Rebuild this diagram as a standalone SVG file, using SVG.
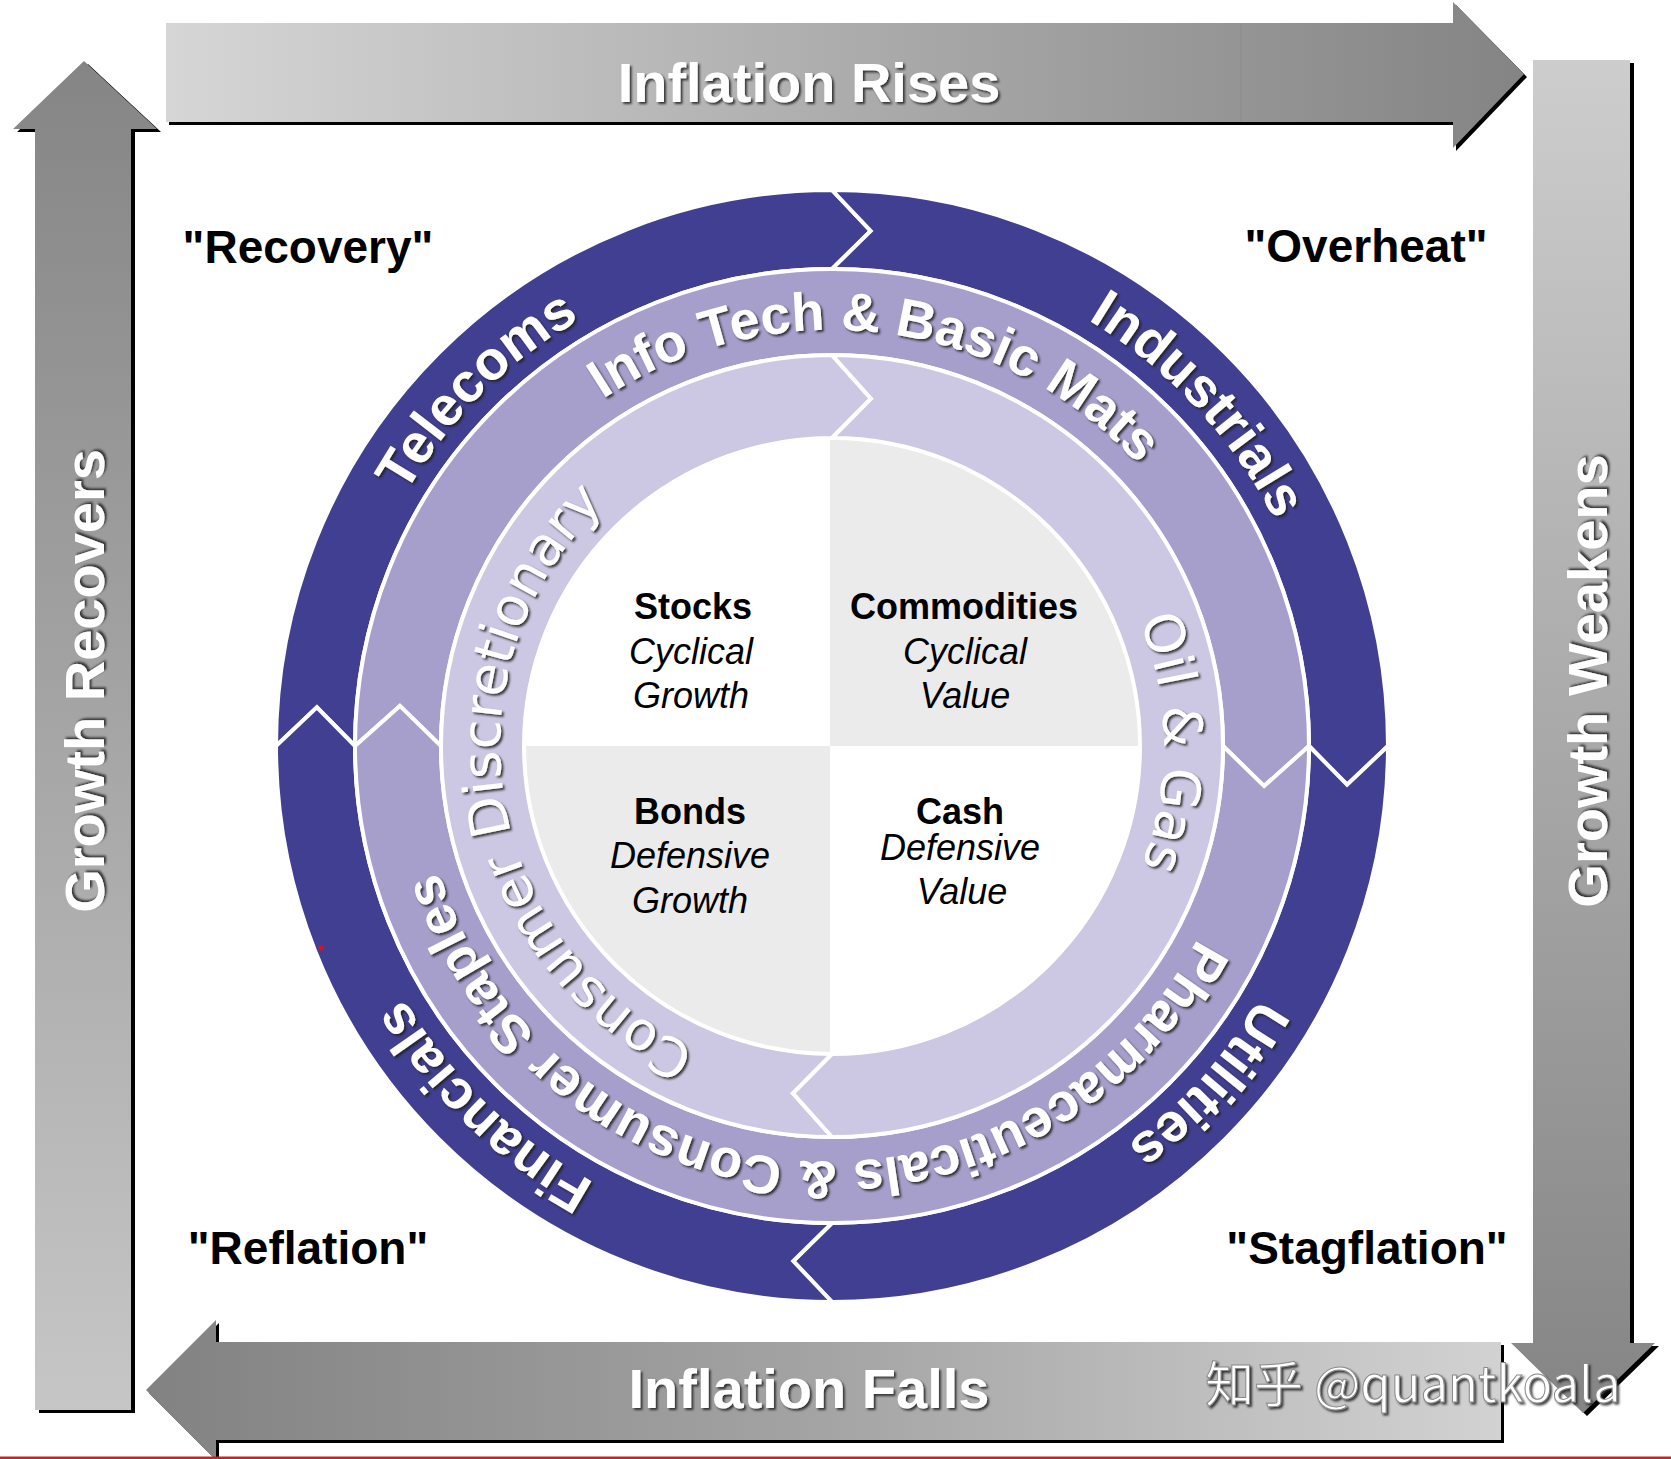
<svg xmlns="http://www.w3.org/2000/svg" xmlns:xlink="http://www.w3.org/1999/xlink" width="1671" height="1459" viewBox="0 0 1671 1459">
<defs>
<style>
.albl{font-family:"Liberation Sans",Arial,sans-serif;font-weight:bold;font-size:56px;fill:#ffffff;text-anchor:middle;filter:url(#ts)}
.qlbl{font-family:"Liberation Sans",Arial,sans-serif;font-weight:bold;font-size:46px;fill:#000000;text-anchor:middle}
.ring{font-family:"Liberation Sans",Arial,sans-serif;font-weight:bold;fill:#ffffff;filter:url(#ts)}
.ring2{font-family:"DejaVu Sans",sans-serif;font-weight:normal;fill:#ffffff;filter:url(#ts)}
.seg{stroke:#ffffff;stroke-width:4;stroke-linejoin:miter}
.dark{fill:#413f91}
.mid{fill:#a69ecb}
.light{fill:#ccc7e2}
.qb{font-family:"Liberation Sans",Arial,sans-serif;font-weight:bold;font-size:36px;fill:#000;text-anchor:middle}
.qi{font-family:"Liberation Sans",Arial,sans-serif;font-style:italic;font-size:36px;fill:#000;text-anchor:middle}
</style>
<filter id="ts" x="-10%" y="-10%" width="125%" height="130%">
<feDropShadow dx="2" dy="2" stdDeviation="0.8" flood-color="#202020" flood-opacity="0.85"/>
</filter>
<linearGradient id="gTop" x1="166" y1="0" x2="1524" y2="0" gradientUnits="userSpaceOnUse">
<stop offset="0" stop-color="#d6d6d6"/><stop offset="0.55" stop-color="#a8a8a8"/><stop offset="1" stop-color="#848484"/>
</linearGradient>
<linearGradient id="gBot" x1="146" y1="0" x2="1501" y2="0" gradientUnits="userSpaceOnUse">
<stop offset="0" stop-color="#828282"/><stop offset="0.5" stop-color="#a4a4a4"/><stop offset="1" stop-color="#d2d2d2"/>
</linearGradient>
<linearGradient id="gLeft" x1="0" y1="61" x2="0" y2="1410" gradientUnits="userSpaceOnUse">
<stop offset="0" stop-color="#858585"/><stop offset="1" stop-color="#c6c6c6"/>
</linearGradient>
<linearGradient id="gRight" x1="0" y1="60" x2="0" y2="1413" gradientUnits="userSpaceOnUse">
<stop offset="0" stop-color="#cdcdcd"/><stop offset="1" stop-color="#858585"/>
</linearGradient>
<clipPath id="innerClip"><circle cx="832" cy="746" r="306"/></clipPath>
<path id="tpTele" d="M1183.4,1097.4 A497,497 0 0 1 480.6,394.6 A497,497 0 0 1 1183.4,1097.4"/>
<path id="tpInd" d="M468.5,1085 A497,497 0 0 1 1195.5,407 A497,497 0 0 1 468.5,1085"/>
<path id="tpUtil" d="M462.7,413.5 A497,497 0 0 1 1201.3,1078.5 A497,497 0 0 1 462.7,413.5"/>
<path id="tpFin" d="M1177.3,388.5 A497,497 0 0 1 486.7,1103.5 A497,497 0 0 1 1177.3,388.5"/>
<path id="tpInfo" d="M781.3,1158.9 A416,416 0 0 1 882.7,333.1 A416,416 0 0 1 781.3,1158.9"/>
<path id="tpPharma" d="M868.3,331.6 A416,416 0 0 1 795.7,1160.4 A416,416 0 0 1 868.3,331.6"/>
<path id="tpCons" d="M1159.5,691.2 A332,332 0 0 1 504.5,800.8 A332,332 0 0 1 1159.5,691.2"/>
<path id="tpOil" d="M500,749.5 A332,332 0 0 1 1164,742.5 A332,332 0 0 1 500,749.5"/>
</defs>

<rect x="0" y="0" width="1671" height="1459" fill="#ffffff"/>

<g id="connectors">
  <g id="arrow-inflation-rises">
    <path d="M166,23 L1453,23 L1453,2 L1524,74 L1453,148 L1453,122 L166,122 Z" fill="#000" transform="translate(3,3)"/>
    <path d="M166,23 L1453,23 L1453,2 L1524,74 L1453,148 L1453,122 L166,122 Z" fill="url(#gTop)"/>
    <line x1="1241" y1="23" x2="1241" y2="122" stroke="#8a8a8a" stroke-width="1"/>
    <text class="albl" x="809" y="102">Inflation Rises</text>
  </g>
  <g id="arrow-growth-weakens">
    <path d="M1533,60 L1630,60 L1630,1343 L1655,1343 L1583,1413 L1511,1343 L1533,1343 Z" fill="#000" transform="translate(4,3)"/>
    <path d="M1533,60 L1630,60 L1630,1343 L1655,1343 L1583,1413 L1511,1343 L1533,1343 Z" fill="url(#gRight)"/>
    <text class="albl" transform="translate(1607,681) rotate(-90)">Growth Weakens</text>
  </g>
  <g id="arrow-inflation-falls">
    <path d="M1501,1342 L216,1342 L216,1320 L146,1390 L216,1460 L216,1440 L1501,1440 Z" fill="#000" transform="translate(3,3)"/>
    <path d="M1501,1342 L216,1342 L216,1320 L146,1390 L216,1460 L216,1440 L1501,1440 Z" fill="url(#gBot)"/>
    <text class="albl" x="809" y="1408">Inflation Falls</text>
  </g>
  <g id="arrow-growth-recovers">
    <path d="M84,61 L157,129 L131,129 L131,1410 L35,1410 L35,129 L13,129 Z" fill="#000" transform="translate(4,3)"/>
    <path d="M84,61 L157,129 L131,129 L131,1410 L35,1410 L35,129 L13,129 Z" fill="url(#gLeft)"/>
    <text class="albl" transform="translate(104,681) rotate(-90)">Growth Recovers</text>
  </g>
</g>

<g id="phase-labels">
  <text id="recovery" class="qlbl" x="308" y="263">"Recovery"</text>
  <text id="overheat" class="qlbl" x="1366" y="262">"Overheat"</text>
  <text id="reflation" class="qlbl" x="308" y="1264">"Reflation"</text>
  <text id="stagflation" class="qlbl" x="1367" y="1264">"Stagflation"</text>
</g>

<g id="outer-ring">
  <g id="telecoms">
    <path class="seg dark" d="M276,746 A556,556 0 0 1 832,190 L870.7,230.9 L832,269 A477,477 0 0 0 355,746 L316.9,707.3 Z"/>
    <text class="ring" font-size="55"><textPath xlink:href="#tpTele" href="#tpTele" startOffset="50%" text-anchor="middle">Telecoms</textPath></text>
  </g>
  <g id="industrials">
    <path class="seg dark" d="M832,190 A556,556 0 0 1 1388,746 L1347.1,784.7 L1309,746 A477,477 0 0 0 832,269 L870.7,230.9 Z"/>
    <text class="ring" font-size="55"><textPath xlink:href="#tpInd" href="#tpInd" startOffset="50%" text-anchor="middle">Industrials</textPath></text>
  </g>
  <g id="utilities">
    <path class="seg dark" d="M1388,746 A556,556 0 0 1 832,1302 L793.3,1261.1 L832,1223 A477,477 0 0 0 1309,746 L1347.1,784.7 Z"/>
    <text class="ring" font-size="55"><textPath xlink:href="#tpUtil" href="#tpUtil" startOffset="50%" text-anchor="middle">Utilities</textPath></text>
  </g>
  <g id="financials">
    <path class="seg dark" d="M832,1302 A556,556 0 0 1 276,746 L316.9,707.3 L355,746 A477,477 0 0 0 832,1223 L793.3,1261.1 Z"/>
    <text class="ring" font-size="55"><textPath xlink:href="#tpFin" href="#tpFin" startOffset="50%" text-anchor="middle">Financials</textPath></text>
  </g>
</g>

<g id="middle-ring">
  <g id="infotech-basicmats">
    <path class="seg mid" d="M355,746 A477,477 0 0 1 832,269 A477,477 0 0 1 1309,746 L1264.1,786.1 L1223,746 A391,391 0 0 0 832,355 A391,391 0 0 0 441,746 L399.9,705.9 Z"/>
    <text class="ring" font-size="54"><textPath xlink:href="#tpInfo" href="#tpInfo" startOffset="50%" text-anchor="middle">Info Tech &amp; Basic Mats</textPath></text>
  </g>
  <g id="pharma-staples">
    <path class="seg mid" d="M1309,746 A477,477 0 0 1 832,1223 A477,477 0 0 1 355,746 L399.9,705.9 L441,746 A391,391 0 0 0 832,1137 A391,391 0 0 0 1223,746 L1264.1,786.1 Z"/>
    <text class="ring" font-size="54"><textPath xlink:href="#tpPharma" href="#tpPharma" startOffset="50%" text-anchor="middle">Pharmaceuticals &amp; Consumer Staples</textPath></text>
  </g>
</g>

<g id="inner-ring">
  <g id="consumer-discretionary">
    <path class="seg light" d="M832,1137 A391,391 0 0 1 441,746 A391,391 0 0 1 832,355 L871,398.7 L832,438 A308,308 0 0 0 524,746 A308,308 0 0 0 832,1054 L793,1093.3 Z"/>
    <text class="ring2" font-size="54"><textPath xlink:href="#tpCons" href="#tpCons" startOffset="50%" text-anchor="middle">Consumer Discretionary</textPath></text>
  </g>
  <g id="oil-gas">
    <path class="seg light" d="M832,355 A391,391 0 0 1 1223,746 A391,391 0 0 1 832,1137 L793,1093.3 L832,1054 A308,308 0 0 0 1140,746 A308,308 0 0 0 832,438 L871,398.7 Z"/>
    <text class="ring2" font-size="54"><textPath xlink:href="#tpOil" href="#tpOil" startOffset="50%" text-anchor="middle">Oil &amp; Gas</textPath></text>
  </g>
</g>

<g id="asset-quadrants">
  <circle cx="832" cy="746" r="306" fill="#ffffff"/>
  <g clip-path="url(#innerClip)">
    <rect x="830" y="430" width="320" height="316" fill="#ebebeb"/>
    <rect x="515" y="746" width="315" height="320" fill="#ebebeb"/>
  </g>
  <g id="stocks">
    <text class="qb" x="693" y="619">Stocks</text>
    <text class="qi" x="691" y="664">Cyclical</text>
    <text class="qi" x="691" y="708">Growth</text>
  </g>
  <g id="commodities">
    <text class="qb" x="964" y="619">Commodities</text>
    <text class="qi" x="965" y="664">Cyclical</text>
    <text class="qi" x="965" y="708">Value</text>
  </g>
  <g id="bonds">
    <text class="qb" x="690" y="824">Bonds</text>
    <text class="qi" x="690" y="868">Defensive</text>
    <text class="qi" x="690" y="913">Growth</text>
  </g>
  <g id="cash">
    <text class="qb" x="960" y="824">Cash</text>
    <text class="qi" x="960" y="860">Defensive</text>
    <text class="qi" x="962" y="904">Value</text>
  </g>
</g>

<g id="watermark">
  <text x="1205" y="1402" font-family="'Noto Sans CJK SC',sans-serif" font-size="49" fill="#ffffff" stroke="#8a8a8a" stroke-width="1" filter="url(#ts)">知乎 @quantkoala</text>
</g>

<circle cx="321" cy="948" r="2.5" fill="#e0101a"/>
<rect x="0" y="1456.5" width="1671" height="2.5" fill="#b8282c"/>
</svg>
